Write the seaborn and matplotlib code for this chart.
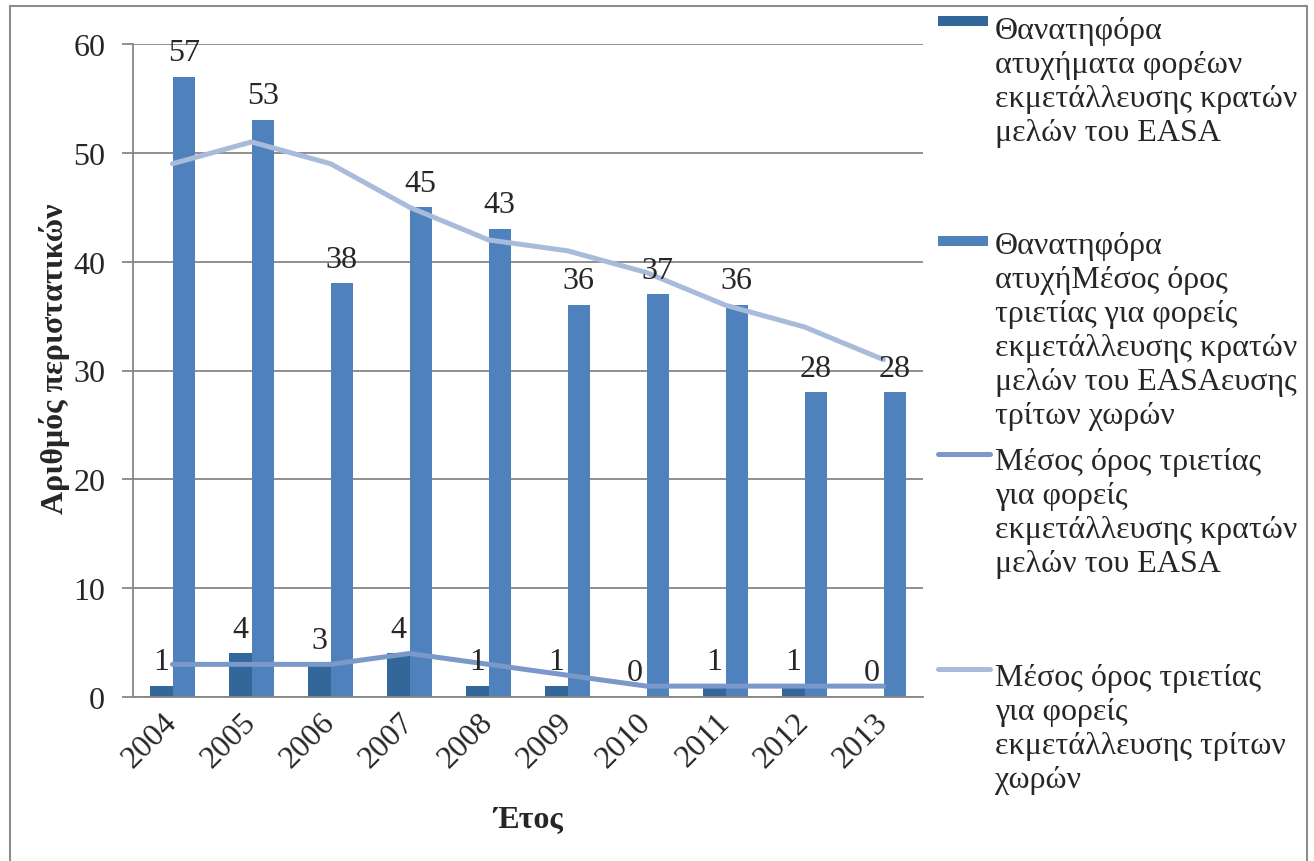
import numpy as np
import pandas as pd
import matplotlib
matplotlib.use("Agg")
from matplotlib import pyplot as plt
from matplotlib.patches import Rectangle
from matplotlib.lines import Line2D
import seaborn as sns

# data
years = ['2004', '2005', '2006', '2007', '2008', '2009', '2010', '2011', '2012', '2013']
easa_fatal = [1, 4, 3, 4, 1, 1, 0, 1, 1, 0]
third_fatal = [57, 53, 38, 45, 43, 36, 37, 36, 28, 28]
easa_avg = [3, 3, 3, 4, 3, 2, 1, 1, 1, 1]
third_avg = [49, 51, 49, 45, 42, 41, 39, 36, 34, 31]

lab_easa = "Θανατηφόρα\nατυχήματα φορέων\nεκμετάλλευσης κρατών\nμελών του EASA"
lab_third = ("Θανατηφόρα\nατυχήΜέσος όρος\nτριετίας για φορείς\nεκμετάλλευσης κρατών\n"
             "μελών του EASAευσης\nτρίτων χωρών")
lab_easa_avg = "Μέσος όρος τριετίας\nγια φορείς\nεκμετάλλευσης κρατών\nμελών του EASA"
lab_third_avg = "Μέσος όρος τριετίας\nγια φορείς\nεκμετάλλευσης τρίτων\nχωρών"

c_dark = '#336699'
c_bar = '#4F81BD'
c_line1 = '#7A98CA'
c_line2 = '#A8BBDA'
grey = '#878787'

sns.set_style("white")
plt.rcParams['font.family'] = ['Liberation Serif', 'DejaVu Serif']
FS = 23

W, H = 1314, 862
fig = plt.figure(figsize=(W / 100, H / 100), dpi=100)
ax = fig.add_axes([133 / W, 1 - 698 / H, (923 - 133) / W, (698 - 45) / H])

df = pd.DataFrame({
    'year': years * 2,
    'value': easa_fatal + third_fatal,
    'series': [lab_easa] * len(years) + [lab_third] * len(years),
})
sns.barplot(data=df, x='year', y='value', hue='series', palette=[c_dark, c_bar],
            width=0.57, saturation=1, linewidth=0, legend=False, ax=ax)

for cont in ax.containers:
    ax.bar_label(cont, fmt='%g', padding=7, fontsize=FS)

x = np.arange(len(years))
sns.lineplot(x=x, y=easa_avg, color=c_line1, linewidth=3.6, ax=ax)
sns.lineplot(x=x, y=third_avg, color=c_line2, linewidth=3.6, ax=ax)

ax.set_ylim(0, 60)
ax.set_xlim(-0.5, len(years) - 0.5)
ax.set_yticks(range(0, 61, 10))
ax.yaxis.grid(True, color=grey, linewidth=1.3)
ax.set_axisbelow(True)
ax.set_xticks(x)
ax.set_xticklabels(years, rotation=45, ha='right', va='center', rotation_mode='anchor')
ax.set_xticks(np.arange(-0.5, len(years), 1), minor=True)
ax.tick_params(axis='x', which='major', length=0, pad=15, labelsize=FS)
ax.tick_params(axis='x', which='minor', length=8, width=1.3, color=grey, direction='out')
ax.tick_params(axis='y', length=8, width=1.3, color=grey, pad=12, labelsize=FS, left=True)
for s in ['top', 'right']:
    ax.spines[s].set_visible(False)
for s in ['left', 'bottom']:
    ax.spines[s].set_color(grey)
    ax.spines[s].set_linewidth(1.3)

ax.set_xlabel('Έτος', fontsize=FS, fontweight='bold')
ax.xaxis.set_label_coords(0.5, -0.165)
ax.set_ylabel('Αριθμός περιστατικών', fontsize=23, fontweight='bold')
ax.yaxis.set_label_coords(-0.08, 0.52)

# legend drawn by hand on the right
entries = [
    ('patch', c_dark, lab_easa, 22, 41),
    ('patch', c_bar, lab_third, 242, 256),
    ('line', c_line1, lab_easa_avg, 455, 472),
    ('line', c_line2, lab_third_avg, 670, 688),
]
for kind, col, lab, hy, by in entries:
    if kind == 'patch':
        fig.add_artist(Rectangle((938 / W, 1 - (hy + 5) / H), 50 / W, 10 / H,
                                 transform=fig.transFigure, color=col, lw=0))
    else:
        fig.add_artist(Line2D([938 / W, 990 / W], [1 - hy / H, 1 - hy / H],
                              transform=fig.transFigure, color=col, lw=3.6,
                              solid_capstyle='round'))
    fig.text(995 / W, 1 - (by - 24) / H, lab, fontsize=FS, va='top', ha='left',
             linespacing=1.23)

# outer frame
fig.add_artist(Rectangle((10 / W, -0.02), (1307 - 10) / W, (H - 7) / H + 0.02,
                         transform=fig.transFigure, fill=False, ec='#8c8c8c', lw=1.5))

fig.savefig('out.png', dpi=100)
